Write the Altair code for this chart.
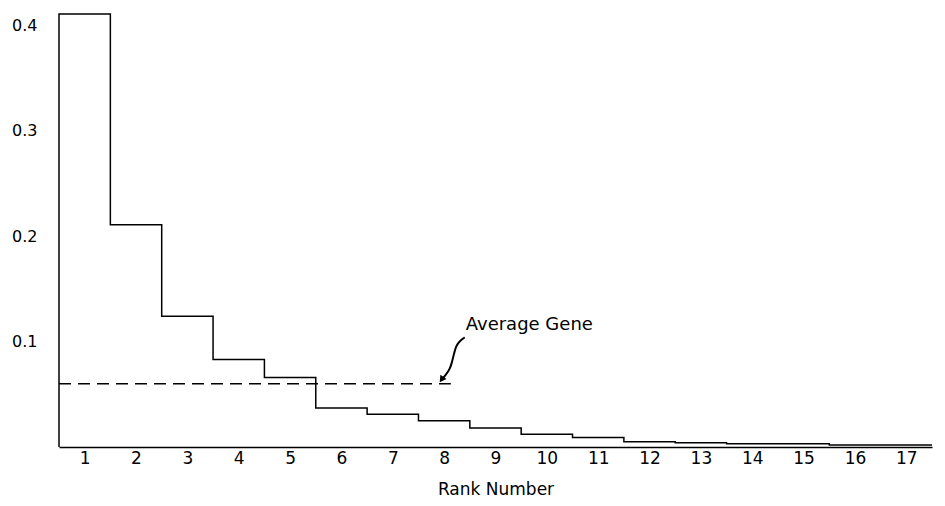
import altair as alt
import pandas as pd

# ---- data ----
ranks = list(range(1, 18))
freq = [0.411, 0.211, 0.124, 0.083, 0.066, 0.037, 0.031, 0.025, 0.018,
        0.012, 0.009, 0.005, 0.004, 0.003, 0.003, 0.002, 0.002]
y_ticks = [0.1, 0.2, 0.3, 0.4]
average_gene = 0.060
average_end_rank = 8.13
note_text = "Average Gene"
note_pos = (8.42, 0.116)
# annotation arrow path (rank, value), from text to tip
arrow_x = [8.40, 8.31, 8.23, 8.19, 8.15, 8.11, 8.04, 7.95]
arrow_y = [0.104, 0.101, 0.096, 0.088, 0.080, 0.074, 0.069, 0.064]

FONT = "DejaVu Sans"

# step outline built from the values
rows = [{"x": ranks[0] - 0.5, "y": 0.0, "o": 0}]
k = 1
for r, v in zip(ranks, freq):
    rows.append({"x": r - 0.5, "y": v, "o": k}); k += 1
    rows.append({"x": r + 0.5, "y": v, "o": k}); k += 1
step_df = pd.DataFrame(rows)

xscale = alt.Scale(domain=[0.5, 17.5], nice=False, zero=False)
yscale = alt.Scale(domain=[0, 0.411], nice=False)

step = alt.Chart(step_df).mark_line(color="black", strokeWidth=1.5).encode(
    x=alt.X("x:Q", scale=xscale,
            axis=alt.Axis(values=ranks, format="d", title="Rank Number",
                          grid=False, ticks=False, domain=True,
                          domainColor="black", domainWidth=1.6,
                          labelFont=FONT, labelFontSize=17, labelColor="black",
                          labelPadding=3, titleFont=FONT, titleFontSize=17,
                          titleFontWeight="normal", titleColor="black",
                          titlePadding=15)),
    y=alt.Y("y:Q", scale=yscale,
            axis=alt.Axis(values=y_ticks, format=".1f", title=None, grid=False,
                          ticks=False, domain=False, labelFont=FONT,
                          labelFontSize=16, labelColor="black", labelPadding=22)),
    order="o:Q",
)

avg_df = pd.DataFrame({"x": [0.5], "x2": [average_end_rank], "y": [average_gene]})
avg = alt.Chart(avg_df).mark_rule(color="black", strokeWidth=1.4,
                                  strokeDash=[12, 7]).encode(
    x="x:Q", x2="x2:Q", y="y:Q")

arrow_df = pd.DataFrame({"x": arrow_x, "y": arrow_y, "o": list(range(len(arrow_x)))})
arrow = alt.Chart(arrow_df).mark_line(color="black", strokeWidth=2,
                                      interpolate="basis").encode(
    x="x:Q", y="y:Q", order="o:Q")

tip_df = pd.DataFrame({"x": [arrow_x[-1]], "y": [arrow_y[-1]]})
tip = alt.Chart(tip_df).mark_point(shape="triangle-up", filled=True, color="black",
                                   size=55, angle=215, opacity=1).encode(
    x="x:Q", y="y:Q")

note_df = pd.DataFrame({"x": [note_pos[0]], "y": [note_pos[1]], "t": [note_text]})
note = alt.Chart(note_df).mark_text(align="left", baseline="middle", font=FONT,
                                    fontSize=18, color="black").encode(
    x="x:Q", y="y:Q", text="t:N")

chart = alt.layer(step, avg, arrow, tip, note).properties(
    width=929, height=490,
    autosize=alt.AutoSizeParams(type="fit", contains="padding"),
    padding={"left": 3, "right": 2, "top": 3, "bottom": 1},
    background="white",
).configure_view(stroke=None)

chart.save("out.html", embed_options={"renderer": "svg", "actions": False})
